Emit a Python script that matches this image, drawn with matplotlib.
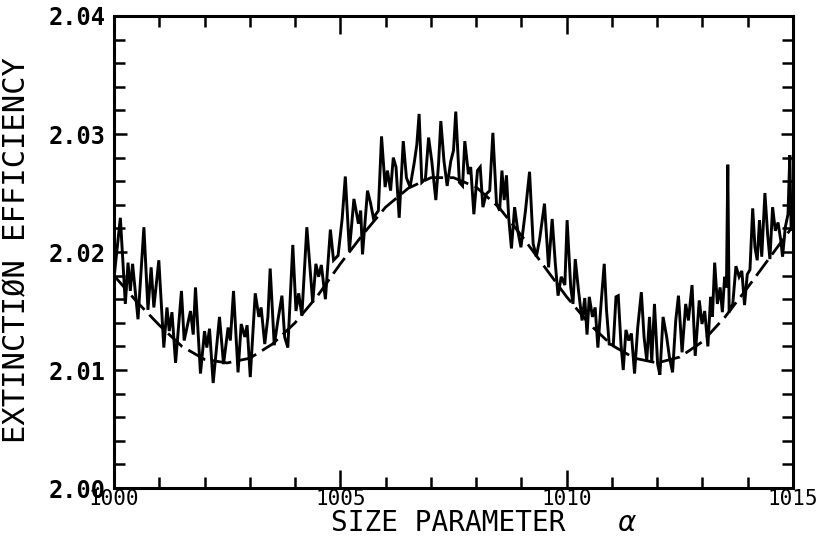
import matplotlib.pyplot as plt
from matplotlib.ticker import MultipleLocator, FormatStrFormatter

# Size parameter values (vertices of the jagged exact curve)
alpha = [
    1000.00, 1000.14, 1000.25, 1000.31, 1000.36, 1000.41, 1000.53, 1000.66, 1000.75, 1000.82,
    1000.88, 1000.99, 1001.10, 1001.17, 1001.22, 1001.28, 1001.36, 1001.49, 1001.55, 1001.69,
    1001.75, 1001.80, 1001.91, 1002.00, 1002.05, 1002.11, 1002.19, 1002.33, 1002.42, 1002.52,
    1002.57, 1002.64, 1002.74, 1002.81, 1002.89, 1002.94, 1003.01, 1003.12, 1003.20, 1003.25,
    1003.33, 1003.40, 1003.45, 1003.54, 1003.62, 1003.71, 1003.77, 1003.84, 1003.95, 1004.02,
    1004.08, 1004.15, 1004.26, 1004.39, 1004.46, 1004.52, 1004.58, 1004.67, 1004.78, 1004.85,
    1004.95, 1005.04, 1005.11, 1005.20, 1005.30, 1005.40, 1005.45, 1005.49, 1005.60, 1005.67,
    1005.73, 1005.84, 1005.91, 1005.99, 1006.04, 1006.11, 1006.17, 1006.23, 1006.30, 1006.39,
    1006.46, 1006.54, 1006.63, 1006.69, 1006.74, 1006.80, 1006.88, 1006.95, 1007.02, 1007.11,
    1007.17, 1007.22, 1007.29, 1007.36, 1007.44, 1007.50, 1007.55, 1007.63, 1007.70, 1007.75,
    1007.83, 1007.88, 1007.95, 1008.03, 1008.09, 1008.15, 1008.22, 1008.30, 1008.37, 1008.45,
    1008.52, 1008.57, 1008.62, 1008.67, 1008.72, 1008.78, 1008.85, 1008.92, 1008.99, 1009.09,
    1009.18, 1009.26, 1009.33, 1009.40, 1009.51, 1009.60, 1009.68, 1009.75, 1009.81, 1009.88,
    1009.96, 1010.01, 1010.09, 1010.14, 1010.19, 1010.26, 1010.34, 1010.40, 1010.45, 1010.50,
    1010.57, 1010.63, 1010.69, 1010.76, 1010.83, 1010.88, 1010.94, 1011.03, 1011.09, 1011.14,
    1011.20, 1011.25, 1011.31, 1011.37, 1011.43, 1011.50, 1011.57, 1011.65, 1011.71, 1011.77,
    1011.83, 1011.88, 1011.94, 1012.01, 1012.06, 1012.13, 1012.21, 1012.27, 1012.34, 1012.41,
    1012.47, 1012.55, 1012.63, 1012.69, 1012.77, 1012.84, 1012.93, 1012.99, 1013.05, 1013.12,
    1013.18, 1013.22, 1013.27, 1013.33, 1013.39, 1013.44, 1013.49, 1013.53, 1013.56, 1013.59,
    1013.67, 1013.74, 1013.81, 1013.87, 1013.93, 1013.99, 1014.05, 1014.11, 1014.16, 1014.21,
    1014.26, 1014.31, 1014.38, 1014.44, 1014.49, 1014.55, 1014.61, 1014.67, 1014.73, 1014.77,
    1014.83, 1014.89, 1014.93, 1014.96, 1015.00,
]

# Extinction efficiency
q_ext = [
    2.0178, 2.0229, 2.0156, 2.0191, 2.0167, 2.0190, 2.0143, 2.0221, 2.0151, 2.0187,
    2.0153, 2.0193, 2.0119, 2.0153, 2.0133, 2.0149, 2.0106, 2.0167, 2.0125, 2.0150,
    2.0130, 2.0170, 2.0097, 2.0133, 2.0119, 2.0135, 2.0089, 2.0145, 2.0105, 2.0136,
    2.0125, 2.0167, 2.0098, 2.0139, 2.0128, 2.0138, 2.0094, 2.0165, 2.0145, 2.0153,
    2.0122, 2.0145, 2.0186, 2.0121, 2.0142, 2.0163, 2.0128, 2.0119, 2.0206, 2.0150,
    2.0165, 2.0146, 2.0221, 2.0157, 2.0190, 2.0179, 2.0189, 2.0160, 2.0219, 2.0193,
    2.0197, 2.0228, 2.0264, 2.0201, 2.0245, 2.0224, 2.0235, 2.0198, 2.0252, 2.0241,
    2.0229, 2.0235, 2.0298, 2.0255, 2.0269, 2.0252, 2.0280, 2.0272, 2.0229, 2.0294,
    2.0263, 2.0255, 2.0275, 2.0291, 2.0317, 2.0259, 2.0262, 2.0297, 2.0277, 2.0244,
    2.0275, 2.0311, 2.0277, 2.0256, 2.0277, 2.0286, 2.0319, 2.0259, 2.0256, 2.0294,
    2.0266, 2.0272, 2.0232, 2.0269, 2.0272, 2.0238, 2.0249, 2.0252, 2.0301, 2.0241,
    2.0235, 2.0269, 2.0244, 2.0265, 2.0229, 2.0203, 2.0238, 2.0218, 2.0204, 2.0235,
    2.0268, 2.0207, 2.0196, 2.0210, 2.0241, 2.0187, 2.0228, 2.0190, 2.0163, 2.0179,
    2.0172, 2.0227, 2.0170, 2.0156, 2.0194, 2.0168, 2.0142, 2.0161, 2.0130, 2.0162,
    2.0145, 2.0153, 2.0119, 2.0156, 2.0190, 2.0151, 2.0122, 2.0121, 2.0162, 2.0163,
    2.0122, 2.0100, 2.0134, 2.0125, 2.0131, 2.0097, 2.0136, 2.0166, 2.0128, 2.0108,
    2.0145, 2.0107, 2.0156, 2.0105, 2.0096, 2.0145, 2.0128, 2.0111, 2.0098, 2.0142,
    2.0163, 2.0115, 2.0156, 2.0142, 2.0172, 2.0112, 2.0159, 2.0139, 2.0150, 2.0120,
    2.0162, 2.0145, 2.0191, 2.0156, 2.0170, 2.0149, 2.0179, 2.0170, 2.0274, 2.0149,
    2.0156, 2.0188, 2.0179, 2.0184, 2.0155, 2.0181, 2.0185, 2.0237, 2.0204, 2.0193,
    2.0227, 2.0196, 2.0250, 2.0215, 2.0194, 2.0238, 2.0218, 2.0225, 2.0210, 2.0196,
    2.0221, 2.0232, 2.0282, 2.0218, 2.0239,
]

# Smooth (dashed) curve
alpha_smooth = [
    1000.0, 1000.5, 1001.0, 1001.5, 1002.0, 1002.5, 1003.0, 1003.5, 1004.0, 1004.5,
    1005.0, 1005.5, 1006.0, 1006.5, 1007.0, 1007.5, 1008.0, 1008.5, 1009.0, 1009.5,
    1010.0, 1010.5, 1011.0, 1011.5, 1012.0, 1012.5, 1013.0, 1013.5, 1014.0, 1014.5,
    1015.0,
]
q_smooth = [
    2.0180, 2.0158, 2.0138, 2.0120, 2.0109, 2.0106, 2.0110, 2.0122, 2.0140, 2.0163,
    2.0190, 2.0215, 2.0238, 2.0254, 2.0263, 2.0263, 2.0255, 2.0238, 2.0214, 2.0188,
    2.0162, 2.0139, 2.0121, 2.0110, 2.0106, 2.0111, 2.0124, 2.0145, 2.0170, 2.0196,
    2.0222,
]

mono = 'DejaVu Sans Mono'

fig = plt.figure(figsize=(8.28, 5.46), dpi=100)
ax = fig.add_axes([0.1377, 0.1062, 0.820, 0.8645])

ax.plot(alpha, q_ext, color='black', lw=2.1, solid_joinstyle='miter')
ax.plot(alpha_smooth, q_smooth, color='black', lw=2.0, dashes=(7, 2.5))

ax.set_xlim(1000, 1015)
ax.set_ylim(2.00, 2.04)
ax.xaxis.set_major_locator(MultipleLocator(5))
ax.xaxis.set_minor_locator(MultipleLocator(1))
ax.yaxis.set_major_locator(MultipleLocator(0.01))
ax.yaxis.set_minor_locator(MultipleLocator(0.002))
ax.yaxis.set_major_formatter(FormatStrFormatter('%.2f'))

# ticks inside on all four sides, like the plotter output
ax.tick_params(which='both', direction='in', top=True, right=True, width=1.8)
ax.tick_params(axis='x', which='major', length=13, pad=1)
ax.tick_params(axis='x', which='minor', length=8)
ax.tick_params(axis='y', which='major', length=9, pad=6)
ax.tick_params(axis='y', which='minor', length=8)
for s in ax.spines.values():
    s.set_linewidth(2.2)

for lab in ax.get_xticklabels():
    lab.set_fontfamily(mono)
    lab.set_fontsize(15)
for lab in ax.get_yticklabels():
    lab.set_fontfamily(mono)
    lab.set_fontsize(17)
    lab.set_fontweight('bold')

ax.text(0.492, -0.075, 'SIZE PARAMETER', transform=ax.transAxes, family=mono,
        fontsize=20, ha='center', va='center')
ax.text(0.755, -0.075, 'α', transform=ax.transAxes, family='DejaVu Sans',
        fontsize=20, style='italic', ha='center', va='center')
ax.text(-0.143, 0.504, 'EXTINCTIØN EFFICIENCY', transform=ax.transAxes, family=mono,
        fontsize=22, rotation=90, ha='center', va='center')

fig.savefig('out.png', dpi=100)
